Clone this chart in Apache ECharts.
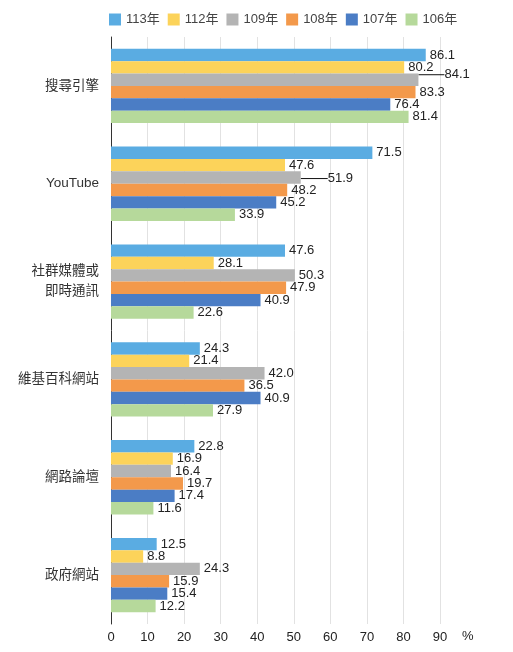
<!DOCTYPE html>
<html>
<head>
<meta charset="utf-8">
<script src="https://cdn.jsdelivr.net/npm/echarts@6/dist/echarts.min.js"></script>
<style>html,body{margin:0;padding:0;background:#fff;}#c{width:513px;height:652px;}</style>
</head>
<body>
<div id="c"></div>
<script>
var categories = ['搜尋引擎', 'YouTube', '社群媒體或\n即時通訊', '維基百科網站', '網路論壇', '政府網站'];
var seriesNames = ['113年', '112年', '109年', '108年', '107年', '106年'];
var y113 = [86.1, 71.5, 47.6, 24.3, 22.8, 12.5];
var y112 = [80.2, 47.6, 28.1, 21.4, 16.9, 8.8];
var y109 = [84.1, 51.9, 50.3, 42.0, 16.4, 24.3];
var y108 = [83.3, 48.2, 47.9, 36.5, 19.7, 15.9];
var y107 = [76.4, 45.2, 40.9, 40.9, 17.4, 15.4];
var y106 = [81.4, 33.9, 22.6, 27.9, 11.6, 12.2];
var xTicks = [0, 10, 20, 30, 40, 50, 60, 70, 80, 90];

var colors = ['#5AACE2', '#FCD35A', '#B4B4B4', '#F3994B', '#4B7DC5', '#B6D99B'];
var values = [y113, y112, y109, y108, y107, y106];
var FONT = 'Helvetica, Arial, "Liberation Sans", "Noto Sans CJK TC", sans-serif';

// labels that are moved aside with a leader line: [seriesIndex, dataIndex, dx, dy]
var moved = [[2, 0, 22, -5], [2, 1, 23, 1]];

var chart = echarts.init(document.getElementById('c'), null, {renderer: 'canvas'});
var series = seriesNames.map(function (name, si) {
  return {
    name: name,
    type: 'bar',
    barGap: '0%',
    barCategoryGap: '24%',
    itemStyle: {color: colors[si]},
    label: {
      show: true,
      position: 'right',
      distance: 4,
      color: '#222',
      fontSize: 13,
      fontFamily: FONT,
      formatter: function (p) { return Number(p.value).toFixed(1); }
    },
    labelLine: {show: false},
    data: values[si].map(function (v, di) {
      var m = moved.filter(function (x) { return x[0] === si && x[1] === di; });
      if (m.length) {
        return {value: v, labelLine: {show: true, lineStyle: {color: '#111', width: 1}}};
      }
      return v;
    }),
    labelLayout: function (params) {
      for (var i = 0; i < moved.length; i++) {
        if (moved[i][0] === params.seriesIndex && moved[i][1] === params.dataIndex) {
          return {dx: moved[i][2], dy: moved[i][3]};
        }
      }
      return {};
    }
  };
});

chart.setOption({
  animation: false,
  textStyle: {fontFamily: FONT},
  legend: {
    top: 8,
    left: 104,
    icon: 'rect',
    itemWidth: 12,
    itemHeight: 12,
    itemGap: 8,
    textStyle: {fontSize: 13, color: '#444', fontFamily: FONT},
    data: seriesNames
  },
  grid: {left: 111, right: 73, top: 37, bottom: 28, containLabel: false},
  xAxis: {
    type: 'value',
    min: xTicks[0],
    max: xTicks[xTicks.length - 1],
    interval: 10,
    name: '%',
    nameLocation: 'end',
    nameGap: 22,
    nameTextStyle: {fontSize: 13, color: '#222', align: 'left', verticalAlign: 'top', padding: [6, 0, 0, 0], fontFamily: FONT},
    axisLine: {show: false},
    axisTick: {show: false},
    axisLabel: {fontSize: 13, color: '#222', margin: 7, fontFamily: FONT},
    splitLine: {show: true, lineStyle: {color: '#e2e2e2', width: 1}}
  },
  yAxis: {
    type: 'category',
    inverse: true,
    data: categories,
    axisLine: {show: true, lineStyle: {color: '#333', width: 1}},
    axisTick: {show: false},
    axisLabel: {fontSize: 13.5, color: '#333', margin: 12, lineHeight: 20, fontFamily: FONT}
  },
  series: series
});
</script>
</body>
</html>
